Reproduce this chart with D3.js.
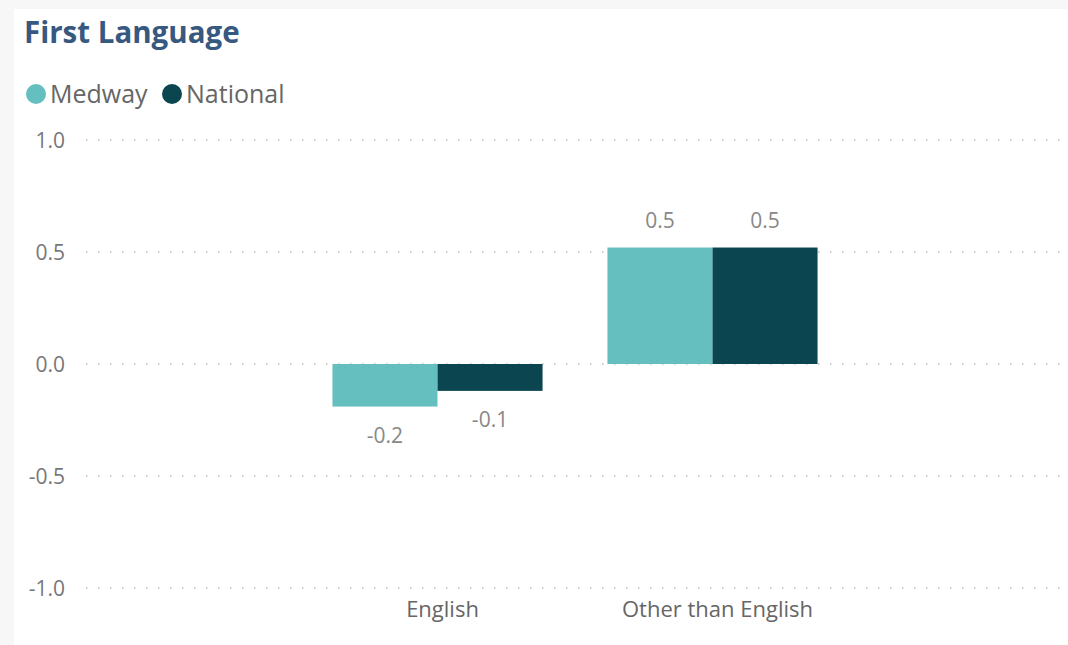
<!DOCTYPE html>
<head>
  <meta charset="utf-8">
  <script src="https://d3js.org/d3.v7.min.js"></script>
  <style>
    body { margin:0; background:#f7f7f7; }
    svg { display:block; }
  </style>
</head>
<body>
  <svg width="1068" height="645"></svg>
  <script>
    var categories = ['English', 'Other than English'];
    var seriesNames = ['Medway', 'National'];
    var medway = [-0.19, 0.52];
    var national = [-0.12, 0.52];
    var yTicks = [-1.0, -0.5, 0.0, 0.5, 1.0];
    var colors = ['#66bfbf', '#0b4650'];

    var width = 1068, height = 645;
    var font = '"Open Sans", "Noto Sans", sans-serif';
    // plain hyphen for negatives, like the original
    var fmt = d => d3.format('.1f')(d).replace('\u2212', '-');

    var svg = d3.select('svg');

    // white panel
    svg.append('rect')
      .attr('x', 14).attr('y', 9)
      .attr('width', width - 14).attr('height', height - 9)
      .attr('fill', '#fff');

    // title
    svg.append('text')
      .attr('x', 24).attr('y', 43)
      .attr('font-family', font)
      .attr('font-weight', 700)
      .attr('font-size', 29.5)
      .attr('fill', '#37587f')
      .text('First Language');

    // legend
    var legend = svg.append('g').attr('font-family', font).attr('font-size', 25).attr('fill', '#666');
    var lx = [36, 172];
    seriesNames.forEach((s, i) => {
      legend.append('circle').attr('cx', lx[i]).attr('cy', 94).attr('r', 10).attr('fill', colors[i]);
      legend.append('text').attr('x', lx[i] + 14).attr('y', 103).text(s);
    });

    // scales
    var yScale = d3.scaleLinear().domain([-1, 1]).range([588, 140]);
    var xScale = d3.scaleBand().domain(categories).range([300, 850])
      .paddingInner(0.236).paddingOuter(0.118);
    var xSub = d3.scaleBand().domain(seriesNames).range([0, xScale.bandwidth()]);

    // grid
    var grid = svg.append('g');
    grid.selectAll('line').data(yTicks).enter().append('line')
      .attr('x1', 86).attr('x2', 1062)
      .attr('y1', d => yScale(d)).attr('y2', d => yScale(d))
      .attr('stroke', '#bdbdbd')
      .attr('stroke-width', 1.5)
      .attr('stroke-dasharray', '1.5,10.5');

    // y axis
    var yAxis = d3.axisLeft(yScale).tickValues(yTicks).tickFormat(fmt).tickSize(0).tickPadding(0);
    var gy = svg.append('g').attr('transform', 'translate(65,0)').call(yAxis);
    gy.select('.domain').remove();
    gy.selectAll('text').attr('font-family', font).attr('font-size', 21).attr('fill', '#777').attr('dy', '0.35em');

    // x axis
    var xAxis = d3.axisBottom(xScale).tickSize(0).tickPadding(0);
    var gx = svg.append('g').attr('transform', 'translate(5,600)').call(xAxis);
    gx.select('.domain').remove();
    gx.selectAll('text').attr('font-family', font).attr('font-size', 22).attr('fill', '#666').attr('dy', '0.75em');

    // bars
    var rows = categories.map((c, i) => ({cat: c, vals: [
      {s: seriesNames[0], v: medway[i], c: colors[0]},
      {s: seriesNames[1], v: national[i], c: colors[1]}
    ]}));

    var groups = svg.selectAll('g.cat').data(rows).enter().append('g')
      .attr('class', 'cat')
      .attr('transform', d => 'translate(' + xScale(d.cat) + ',0)');

    groups.selectAll('rect').data(d => d.vals).enter().append('rect')
      .attr('x', d => xSub(d.s))
      .attr('width', xSub.bandwidth())
      .attr('y', d => yScale(Math.max(0, d.v)))
      .attr('height', d => Math.abs(yScale(d.v) - yScale(0)))
      .attr('fill', d => d.c);

    groups.selectAll('text.lbl').data(d => d.vals).enter().append('text')
      .attr('class', 'lbl')
      .attr('x', d => xSub(d.s) + xSub.bandwidth() / 2)
      .attr('y', d => d.v >= 0 ? yScale(d.v) - 27 : yScale(d.v) + 29)
      .attr('dy', '0.35em')
      .attr('text-anchor', 'middle')
      .attr('font-family', font)
      .attr('font-size', 21)
      .attr('fill', '#888')
      .text(d => fmt(d.v));
  </script>
</body>
